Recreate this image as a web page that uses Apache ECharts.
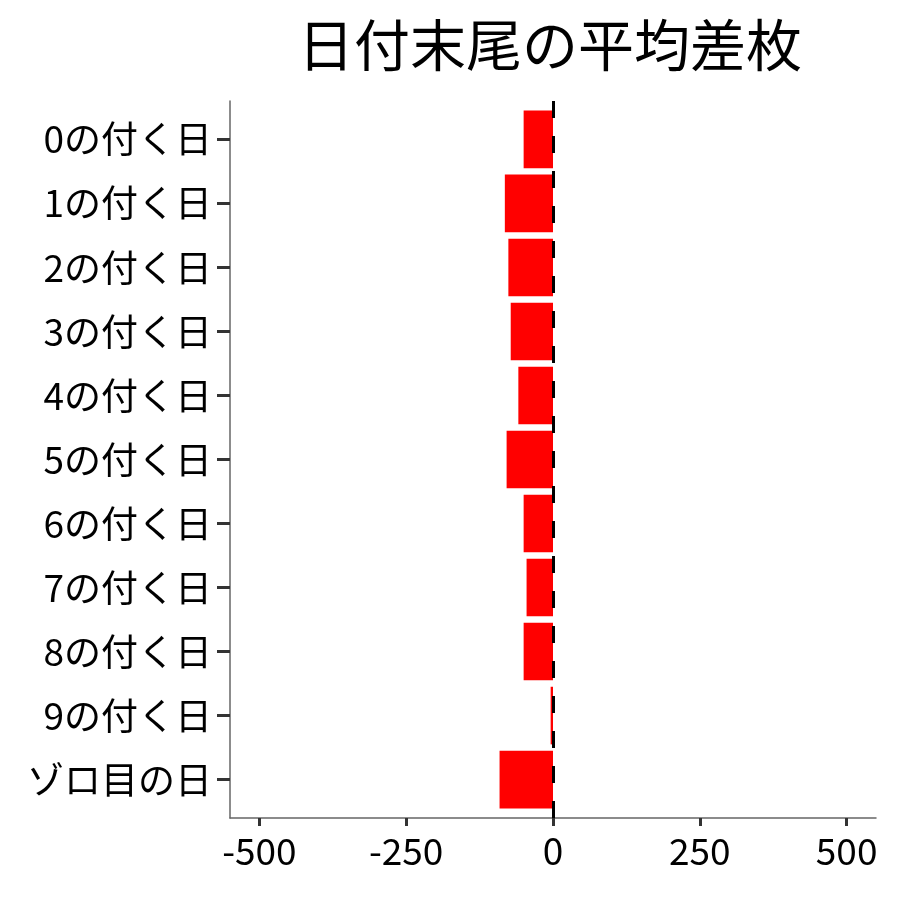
<!DOCTYPE html>
<html>
<head>
<meta charset="utf-8">
<script src="https://cdn.jsdelivr.net/npm/echarts@6/dist/echarts.min.js"></script>
<style>
  html, body { margin: 0; padding: 0; background: #fff; }
  #chart { width: 900px; height: 900px; }
</style>
</head>
<body>
<div id="chart"></div>
<script>
// 日付末尾ごとの平均差枚
var categories = ['0の付く日', '1の付く日', '2の付く日', '3の付く日', '4の付く日',
  '5の付く日', '6の付く日', '7の付く日', '8の付く日', '9の付く日', 'ゾロ目の日']
var values = [-50, -82, -76, -72, -59, -79, -50, -45, -50, -4, -91]
var xTicks = [-500, -250, 0, 250, 500]

var font = '"Noto Sans CJK JP", "Noto Sans", sans-serif'

// ggplot pads a discrete axis by 0.6 of a step at each end, echarts by 0.5,
// so the bars sit in an inner grid that is 0.1 step smaller on both ends
var plotTop = 101, plotBottom = 82
var step = (900 - plotTop - plotBottom) / (categories.length + 0.2)
var pad = step * 0.1

var chart = echarts.init(document.getElementById('chart'))
chart.setOption({
  animation: false,
  title: {
    text: '日付末尾の平均差枚',
    left: 545,
    textAlign: 'center',
    top: 12,
    textStyle: { fontFamily: font, fontSize: 56, fontWeight: 'normal', color: '#000' }
  },
  grid: [
    { left: 230, right: 24, top: plotTop, bottom: plotBottom },
    { left: 230, right: 24, top: plotTop + pad, bottom: plotBottom + pad }
  ],
  xAxis: [{
    gridIndex: 0,
    type: 'value',
    min: -550,
    max: 550,
    axisLine: { show: true, lineStyle: { color: '#666', width: 1.5 } },
    axisTick: { show: true, customValues: xTicks, length: 8, lineStyle: { color: '#333', width: 3 } },
    axisLabel: { customValues: xTicks, fontFamily: font, fontSize: 37, color: '#000', margin: 14 },
    splitLine: { show: false }
  }, {
    gridIndex: 1,
    type: 'value',
    min: -550,
    max: 550,
    show: false
  }],
  yAxis: [{
    gridIndex: 0,
    type: 'value',
    min: 0,
    max: 1,
    axisLine: { show: true, onZero: false, lineStyle: { color: '#666', width: 1.5 } },
    axisTick: { show: false },
    axisLabel: { show: false },
    splitLine: { show: false }
  }, {
    gridIndex: 1,
    type: 'category',
    data: categories,
    inverse: true,
    axisLine: { show: false, onZero: false },
    axisTick: { show: true, alignWithLabel: true, length: 13, lineStyle: { color: '#333', width: 3 } },
    axisLabel: { fontFamily: font, fontSize: 37, color: '#000', margin: 18 }
  }],
  series: [{
    type: 'bar',
    xAxisIndex: 1,
    yAxisIndex: 1,
    data: values,
    barCategoryGap: '10%',
    itemStyle: { color: '#ff0000' }
  }, {
    type: 'scatter',
    xAxisIndex: 0,
    yAxisIndex: 0,
    data: [],
    markLine: {
      silent: true,
      symbol: 'none',
      label: { show: false },
      lineStyle: { color: '#000', width: 3, type: [17, 18] },
      data: [{ xAxis: 0 }]
    }
  }]
})
</script>
</body>
</html>
